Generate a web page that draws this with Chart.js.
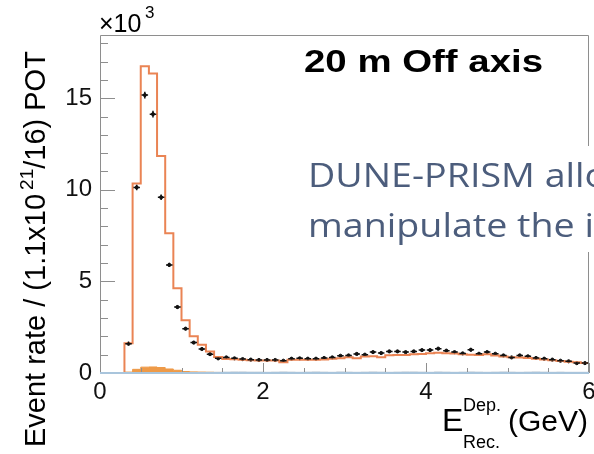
<!DOCTYPE html>
<html>
<head>
<meta charset="utf-8">
<script src="https://cdn.jsdelivr.net/npm/chart.js@4.4.1/dist/chart.umd.min.js"></script>
<style>
  html, body { margin: 0; padding: 0; background: #fff; }
  canvas { display: block; }
</style>
</head>
<body>
<canvas id="offAxis" width="594" height="454"></canvas>
<script>
// reconstructed energy bins, GeV
const binEdges = [0.3, 0.4, 0.5, 0.6, 0.7, 0.8, 0.9, 1.0, 1.1, 1.2, 1.3, 1.4, 1.5, 1.6, 1.7, 1.8, 1.9,
  2.0, 2.1, 2.2, 2.3, 2.4, 2.5, 2.6, 2.7, 2.8, 2.9, 3.0, 3.1, 3.2, 3.3, 3.4, 3.5, 3.6, 3.7, 3.8, 3.9,
  4.0, 4.1, 4.2, 4.3, 4.4, 4.5, 4.6, 4.7, 4.8, 4.9, 5.0, 5.1, 5.2, 5.3, 5.4, 5.5, 5.6, 5.7, 5.8, 5.9, 6.0];

// event rates in units of 10^3
const prediction = [1.63, 10.35, 16.75, 16.35, 11.85, 7.63, 4.63, 2.88, 2.0, 1.54, 1.18, 0.87, 0.76,
  0.75, 0.72, 0.70, 0.68, 0.68, 0.68, 0.58, 0.72, 0.72, 0.72, 0.72, 0.74, 0.78, 0.80, 0.86, 0.80,
  0.90, 0.92, 0.86, 0.97, 0.98, 0.98, 1.02, 1.04, 1.08, 1.10, 1.08, 1.06, 1.02, 1.00, 0.98, 1.02,
  0.96, 0.90, 0.86, 0.84, 0.82, 0.78, 0.74, 0.70, 0.66, 0.62, 0.58, 0.54];

const fakeData = [1.6, 10.13, 15.17, 14.13, 9.59, 5.9, 3.6, 2.42, 1.66, 1.31, 1.03, 0.80, 0.85,
  0.80, 0.76, 0.73, 0.71, 0.71, 0.71, 0.67, 0.78, 0.80, 0.78, 0.78, 0.82, 0.85, 0.94, 0.96, 1.04,
  1.00, 1.14, 1.09, 1.18, 1.18, 1.14, 1.18, 1.25, 1.25, 1.33, 1.22, 1.14, 1.07, 1.27, 1.05, 1.14,
  1.05, 0.96, 0.85, 0.96, 0.91, 0.82, 0.78, 0.73, 0.67, 0.64, 0.54, 0.54];

const fakeDataErr = [0.10, 0.15, 0.18, 0.18, 0.15, 0.12, 0.10, 0.08, 0.08, 0.07, 0.07, 0.06, 0.06,
  0.06, 0.06, 0.06, 0.06, 0.06, 0.06, 0.06, 0.06, 0.06, 0.06, 0.06, 0.06, 0.06, 0.06, 0.06, 0.06,
  0.06, 0.06, 0.06, 0.06, 0.06, 0.06, 0.06, 0.06, 0.06, 0.06, 0.06, 0.06, 0.06, 0.10, 0.06, 0.06,
  0.06, 0.06, 0.06, 0.06, 0.06, 0.06, 0.06, 0.06, 0.06, 0.06, 0.06, 0.06];

const wrongSign = [0.05, 0.20, 0.32, 0.33, 0.30, 0.22, 0.15, 0.08, 0.06, 0.05, 0.04, 0.03, 0,
  0, 0, 0, 0, 0, 0, 0, 0, 0, 0, 0, 0, 0, 0, 0, 0, 0, 0, 0, 0, 0, 0, 0, 0, 0, 0, 0, 0, 0, 0, 0, 0,
  0, 0, 0, 0, 0, 0, 0, 0, 0, 0, 0, 0];

const ncBackground = [0, 0, 0, 0, 0, 0, 0, 0.02, 0.03, 0.03, 0.04, 0.04, 0.05, 0.06, 0.06, 0.05,
  0.05, 0.04, 0.05, 0.06, 0.05, 0.04, 0.05, 0.06, 0.05, 0.04, 0.06, 0.05, 0.04, 0.05, 0.06, 0.05,
  0.04, 0.05, 0.06, 0.06, 0.05, 0.04, 0.06, 0.05, 0.04, 0.05, 0.06, 0.05, 0.04, 0.05, 0.06, 0.05,
  0.04, 0.05, 0.06, 0.05, 0.04, 0.05, 0.04, 0.04, 0.04];

const xTicks = [0, 2, 4, 6];
const xMinorTicks = [0.5, 1, 1.5, 2.5, 3, 3.5, 4.5, 5, 5.5];
const yTicks = [0, 5, 10, 15];
const yMinorTicks = [1, 2, 3, 4, 6, 7, 8, 9, 11, 12, 13, 14, 16, 17, 18];

const FONT = '"Liberation Sans", Arial, sans-serif';
const ORANGE = '#ea8454';
const AXIS_GREY = '#8e8e8e';

// histogram as a stepped outline starting from zero at the first edge
function stepPoints(values) {
  const pts = [{ x: binEdges[0], y: 0 }];
  values.forEach((v, i) => pts.push({ x: binEdges[i], y: v }));
  pts.push({ x: binEdges[binEdges.length - 1], y: values[values.length - 1] });
  return pts;
}

const dataPoints = fakeData.map((v, i) => ({ x: (binEdges[i] + binEdges[i + 1]) / 2, y: v }));

// axis frame and ROOT-style inward ticks
const frameTicks = {
  id: 'frameTicks',
  afterDatasetsDraw(chart) {
    const { ctx, chartArea: a, scales: { x, y } } = chart;
    ctx.save();
    ctx.lineWidth = 1;
    ctx.strokeStyle = AXIS_GREY;
    ctx.beginPath();
    ctx.moveTo(a.left + 0.5, a.bottom);
    ctx.lineTo(a.left + 0.5, a.top + 0.5);
    ctx.lineTo(a.right - 0.5, a.top + 0.5);
    ctx.lineTo(a.right - 0.5, a.bottom);
    ctx.stroke();

    ctx.beginPath();
    yTicks.forEach(v => { const py = Math.round(y.getPixelForValue(v)) + 0.5; ctx.moveTo(a.left, py); ctx.lineTo(a.left + 15, py); });
    yMinorTicks.forEach(v => { const py = Math.round(y.getPixelForValue(v)) + 0.5; ctx.moveTo(a.left, py); ctx.lineTo(a.left + 8, py); });
    xTicks.forEach(v => { const px = Math.round(x.getPixelForValue(v)) + 0.5; ctx.moveTo(px, a.bottom); ctx.lineTo(px, a.bottom - 10); });
    xMinorTicks.forEach(v => { const px = Math.round(x.getPixelForValue(v)) + 0.5; ctx.moveTo(px, a.bottom); ctx.lineTo(px, a.bottom - 5); });
    ctx.stroke();

    // x axis line
    ctx.strokeStyle = '#a9c5dc';
    ctx.lineWidth = 2;
    ctx.beginPath();
    ctx.moveTo(a.left, a.bottom);
    ctx.lineTo(a.right, a.bottom);
    ctx.stroke();

    // error bars on the pseudo-data
    ctx.strokeStyle = '#111';
    ctx.lineWidth = 1.5;
    ctx.beginPath();
    fakeData.forEach((v, i) => {
      const cv = (binEdges[i] + binEdges[i + 1]) / 2;
      const cx = x.getPixelForValue(cv);
      const py = y.getPixelForValue(v);
      ctx.moveTo(x.getPixelForValue(cv - 0.04), py); ctx.lineTo(x.getPixelForValue(cv + 0.04), py);
      ctx.moveTo(cx, y.getPixelForValue(v + fakeDataErr[i])); ctx.lineTo(cx, y.getPixelForValue(v - fakeDataErr[i]));
    });
    ctx.stroke();
    ctx.restore();
  }
};

// titles, axis captions and the slide text on top
const captions = {
  id: 'captions',
  afterDraw(chart) {
    const { ctx } = chart;
    ctx.save();
    ctx.fillStyle = '#000';
    ctx.textBaseline = 'alphabetic';

    ctx.font = '25px ' + FONT;
    ctx.fillText('\u00d710', 99, 32);
    ctx.font = '17px ' + FONT;
    ctx.fillText('3', 145, 18);

    ctx.save();
    ctx.translate(304, 72);
    ctx.scale(1.2, 1);
    ctx.font = 'bold 32px ' + FONT;
    ctx.fillText('20 m Off axis', 0, 0);
    ctx.restore();

    // y axis title, read bottom to top
    ctx.save();
    ctx.translate(45, 447);
    ctx.rotate(-Math.PI / 2);
    ctx.font = '29px ' + FONT;
    let pos = 0;
    ctx.fillText('Event rate / (1.1x10', pos, 0);
    pos += ctx.measureText('Event rate / (1.1x10').width + 4;
    ctx.font = '19px ' + FONT;
    ctx.fillText('21', pos, -12);
    pos += ctx.measureText('21').width;
    ctx.font = '29px ' + FONT;
    ctx.fillText('/16) POT', pos, 0);
    ctx.restore();

    // x axis title
    ctx.font = '32px ' + FONT;
    ctx.fillText('E', 442, 431);
    ctx.font = '30px ' + FONT;
    ctx.fillText('(GeV)', 508, 431);
    ctx.font = '18px ' + FONT;
    ctx.fillText('Dep.', 463, 411);
    ctx.fillText('Rec.', 463, 448);

    // overlaid slide text
    ctx.fillStyle = '#fff';
    ctx.fillRect(300, 146, 294, 106);
    ctx.save();
    ctx.translate(308, 0);
    ctx.scale(1.14, 1);
    ctx.fillStyle = '#4c5d7c';
    ctx.font = '33px "Open Sans", Lato, sans-serif';
    ctx.fillText('DUNE-PRISM allows', 0, 187);
    ctx.fillText('manipulate the incoming', 0, 237);
    ctx.restore();
    ctx.restore();
  }
};

const chart = new Chart(document.getElementById('offAxis'), {
  type: 'line',
  data: {
    datasets: [
      {
        label: 'wrong sign',
        data: stepPoints(wrongSign),
        stepped: 'before',
        borderColor: '#ee9a48',
        backgroundColor: '#ee9a48',
        borderWidth: 1,
        fill: 'origin',
        pointRadius: 0
      },
      {
        label: 'NC',
        data: stepPoints(ncBackground),
        stepped: 'before',
        borderColor: '#c3ccd6',
        borderWidth: 1,
        fill: false,
        pointRadius: 0
      },
      {
        label: 'Prediction',
        data: stepPoints(prediction),
        stepped: 'before',
        borderColor: ORANGE,
        borderWidth: 2,
        fill: false,
        pointRadius: 0
      },
      {
        type: 'scatter',
        label: 'Fake data',
        data: dataPoints,
        backgroundColor: '#111',
        borderColor: '#111',
        pointRadius: 1.6
      }
    ]
  },
  options: {
    responsive: false,
    animation: false,
    layout: { padding: { left: 0, right: 4, top: 35, bottom: 0 } },
    plugins: { legend: { display: false }, tooltip: { enabled: false } },
    scales: {
      x: {
        type: 'linear',
        min: 0,
        max: 6,
        afterBuildTicks(s) { s.ticks = xTicks.map(v => ({ value: v })); },
        afterFit(s) { s.height = 81; s.paddingLeft = 0; s.paddingRight = 0; },
        grid: { display: false, drawTicks: false },
        border: { display: false },
        ticks: { font: { family: FONT, size: 24 }, color: '#111', padding: 5, maxRotation: 0, autoSkip: false }
      },
      y: {
        type: 'linear',
        min: 0,
        max: 18.45,
        afterBuildTicks(s) { s.ticks = yTicks.map(v => ({ value: v })); },
        afterFit(s) { s.width = 100; s.paddingTop = 0; s.paddingBottom = 0; },
        grid: { display: false, drawTicks: false },
        border: { display: false },
        ticks: { font: { family: FONT, size: 24 }, color: '#111', padding: 8 }
      }
    }
  },
  plugins: [frameTicks, captions]
});
</script>
</body>
</html>
